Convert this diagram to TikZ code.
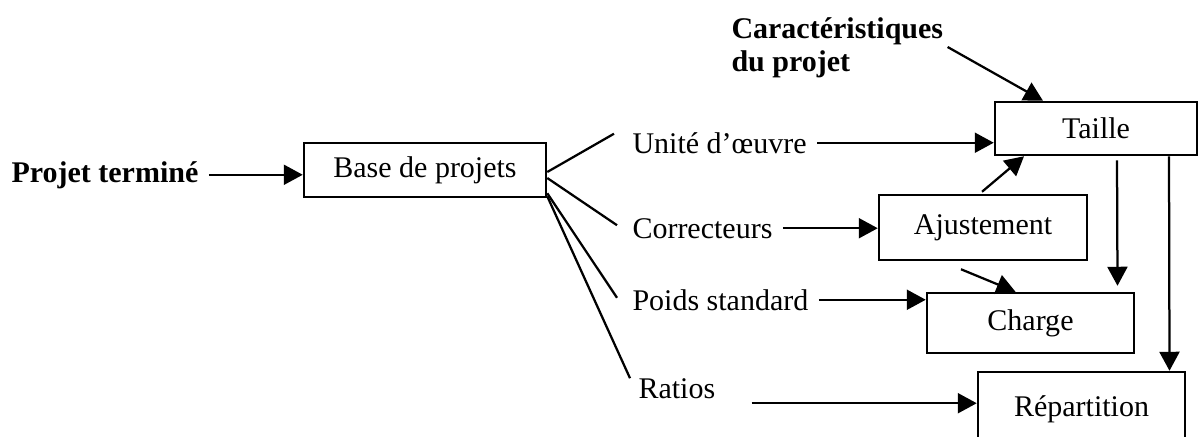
\documentclass[tikz,border=0pt]{standalone}
\usepackage{fontspec}
\setmainfont{Liberation Serif}
\usetikzlibrary{arrows.meta, calc, positioning}

\begin{document}
\begin{tikzpicture}[x=0.4pt, y=-0.4pt,
    every node/.style={font=\fontsize{12}{13}\selectfont},
    box/.style={draw, line width=1pt, inner sep=0pt},
    lbl/.style={inner ysep=0pt, inner xsep=4pt, anchor=base west},
    arr/.style={line width=0.9pt, -{Triangle[length=7.6pt, width=8pt]}},
    lnk/.style={line width=0.9pt}]
  \clip (0,0) rectangle (1199,436);

  % Boxes
  \node[box, minimum width=96.8pt, minimum height=21.6pt] (base) at (425,170) {Base de projets};
  \node[box, minimum width=80.8pt, minimum height=21.2pt] (taille) at (1096,128.5) {Taille};
  \node[box, minimum width=83.2pt, minimum height=26pt] (ajust) at (983,227.5) {Ajustement};
  \node[box, minimum width=82.8pt, minimum height=24pt] (charge) at (1030.5,323) {Charge};
  \node[box, minimum width=82.8pt, minimum height=29.6pt] (rep) at (1081.5,409) {Répartition};

  % Labels
  \node[lbl, font=\fontsize{12}{13}\selectfont\bfseries] (projet) at (1,182) {Projet terminé};
  \node[lbl] (unite) at (622,153) {Unité d’œuvre};
  \node[lbl] (correct) at (622,238) {Correcteurs};
  \node[lbl] (poids) at (622,310) {Poids standard};
  \node[lbl] (ratios) at (628,398) {Ratios};
  \node[lbl, font=\fontsize{12}{13.2}\selectfont\bfseries, align=left, anchor=north west]
    (caract) at (721,17) {Caractéristiques\\du projet};

  % Inputs
  \draw[arr] (projet.east) -- (projet.east -| base.west);
  \draw[arr] (unite.east) -- (unite.east -| taille.west);
  \draw[arr] (correct.east) -- (correct.east -| ajust.west);
  \draw[arr] (poids.east) -- (poids.east -| charge.west);
  \coordinate (ratios-out) at ($(ratios.east)+(26,15)$);
  \draw[arr] (ratios-out) -- (ratios-out -| rep.west);
  \draw[arr] ($(caract.north east)+(-6,30)$) -- ($(taille.north)+(-53,0)$);

  % Base de projets fan
  \draw[lnk] ($(base.east)+(0,2)$) -- ($(unite.west)+(-8,-9)$);
  \draw[lnk] ($(base.east)+(0,8)$) -- ($(correct.west)+(-5,-3)$);
  \draw[lnk] ($(base.south east)+(0,-5)$) -- ($(poids.west)+(-5,-2)$);
  \draw[lnk] ($(base.south east)+(0,-2)$) -- ($(ratios.west)+(2,-10)$);

  % Between the boxes
  \draw[arr] ($(ajust.north)+(-1,-2)$) -- ($(taille.south)+(-72,0)$);
  \draw[arr] ($(ajust.south)+(-22,8)$) -- ($(charge.north)+(-15,0)$);
  \draw[arr] ($(taille.south)+(21,4)$) -- ($(charge.north)+(87,-6)$);
  \draw[arr] ($(taille.south)+(73,0)$) -- ($(rep.north)+(88,0)$);
\end{tikzpicture}
\end{document}
